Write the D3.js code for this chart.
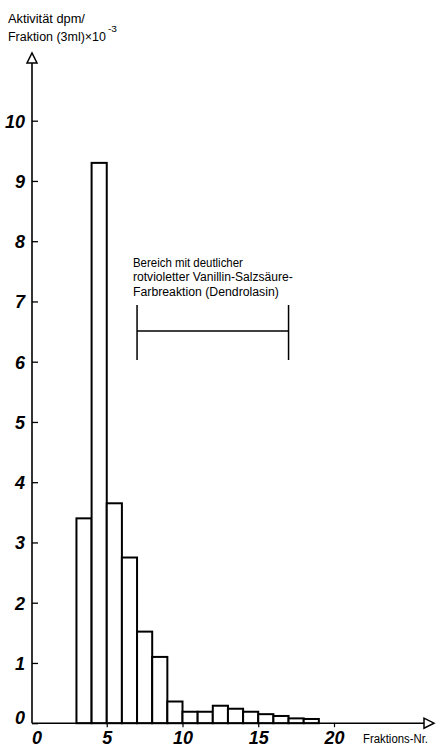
<!DOCTYPE html>
<html><head><meta charset="utf-8">
<script src="https://cdn.jsdelivr.net/npm/d3@7"></script>
<style>
body{margin:0;background:#fff;}
svg{display:block;}
.nar{font-family:"Liberation Sans Narrow","Liberation Sans",sans-serif;}
.num{font-family:"Liberation Sans Narrow","Liberation Sans",sans-serif;font-weight:bold;font-style:italic;}
</style></head>
<body><svg id="c" width="439" height="748"></svg>
<script>
// Data
const fractionStart = [3,4,5,6,7,8,9,10,11,12,13,14,15,16,17,18];
const activity = [3.40,9.30,3.65,2.75,1.52,1.10,0.36,0.19,0.19,0.29,0.24,0.19,0.15,0.12,0.08,0.07];
const yTicks = [0,1,2,3,4,5,6,7,8,9,10];
const xTicks = [0,5,10,15,20];
const yTitle = ["Aktivität dpm/", "Fraktion (3ml)\u00d710"];
const yTitleSup = "-3";
const xTitle = "Fraktions-Nr.";
const noteLines = ["Bereich mit deutlicher","rotvioletter Vanillin-Salzsäure-","Farbreaktion (Dendrolasin)"];
const noteRange = [7,17];

const svg = d3.select("#c");
const x = d3.scaleLinear().domain([0,20]).range([31,334]);
const y = d3.scaleLinear().domain([0,10]).range([723.2,120.7]);

// bars
svg.append("g").selectAll("rect").data(fractionStart).join("rect")
  .attr("x", d=>x(d)).attr("width", d=>x(d+1)-x(d))
  .attr("y", (d,i)=>y(activity[i])).attr("height",(d,i)=>y(0)-y(activity[i]))
  .attr("fill","#fff").attr("stroke","#000").attr("stroke-width",2);

// y axis
const ya = svg.append("g").attr("transform",`translate(${x(0)+1},0)`)
  .call(d3.axisLeft(y).tickValues(yTicks).tickSizeInner(-6).tickSizeOuter(0).tickPadding(7));
ya.select(".domain").remove();
ya.selectAll(".tick line").attr("stroke-width",1.3);
ya.selectAll(".tick text").attr("class","num").attr("font-size",18).attr("fill","#000")
  .attr("dy", d=> d===0 ? "0.0em" : "0.35em");

// x axis
const xa = svg.append("g").attr("transform",`translate(0,${y(0)})`)
  .call(d3.axisBottom(x).tickValues(xTicks.filter(d=>d>0)).tickSizeInner(4).tickSizeOuter(0).tickPadding(6));
xa.select(".domain").remove();
xa.selectAll(".tick line").attr("stroke-width",1.2);
xa.selectAll(".tick text").attr("class","num").attr("font-size",18).attr("fill","#000").attr("dy","0.62em");
svg.append("text").attr("class","num").attr("font-size",18)
  .attr("x", x(0)+6).attr("y", y(0)+10).attr("dy","0.62em").attr("text-anchor","middle").text(xTicks[0]);

// axis lines with open arrowheads
const ax0 = x(0)+1, ay0 = y(0);
svg.append("line").attr("x1",ax0).attr("x2",ax0).attr("y1",ay0).attr("y2",63).attr("stroke","#000").attr("stroke-width",1.6);
svg.append("path").attr("d",`M${ax0-5},63 L${ax0+5},63 L${ax0},53 Z`).attr("fill","#fff").attr("stroke","#000").attr("stroke-width",1.5);
svg.append("line").attr("x1",ax0).attr("x2",424).attr("y1",ay0).attr("y2",ay0).attr("stroke","#000").attr("stroke-width",1.6);
svg.append("path").attr("d",`M424,${ay0-5} L424,${ay0+5} L434,${ay0} Z`).attr("fill","#fff").attr("stroke","#000").attr("stroke-width",1.5);

// narrow lettering: natural text squeezed horizontally with a transform
function narrow(str, px, tx, ty, w){
  const el = svg.append("text").attr("class","nar").attr("font-size",px).attr("fill","#000").text(str);
  const nat = el.node().getComputedTextLength();
  el.attr("transform",`translate(${tx},${ty}) scale(${w/nat},1)`);
  return el;
}
narrow(yTitle[0], 13.5, 8, 23, 77);
narrow(yTitle[1], 13.5, 8, 41, 98);
narrow(yTitleSup, 9, 108, 32, 9);
narrow(xTitle, 13.5, 363, 743, 65);

// annotation
const noteWidths = [110,160,146];
noteLines.forEach((s,i)=>narrow(s, 13.5, 133, 267+i*14.3, noteWidths[i]));
const by = 331;
svg.append("line").attr("x1",x(noteRange[0])).attr("x2",x(noteRange[1])).attr("y1",by).attr("y2",by).attr("stroke","#000").attr("stroke-width",1.5);
noteRange.forEach(v=>svg.append("line").attr("x1",x(v)).attr("x2",x(v)).attr("y1",305).attr("y2",360).attr("stroke","#000").attr("stroke-width",1.5));
</script></body></html>
